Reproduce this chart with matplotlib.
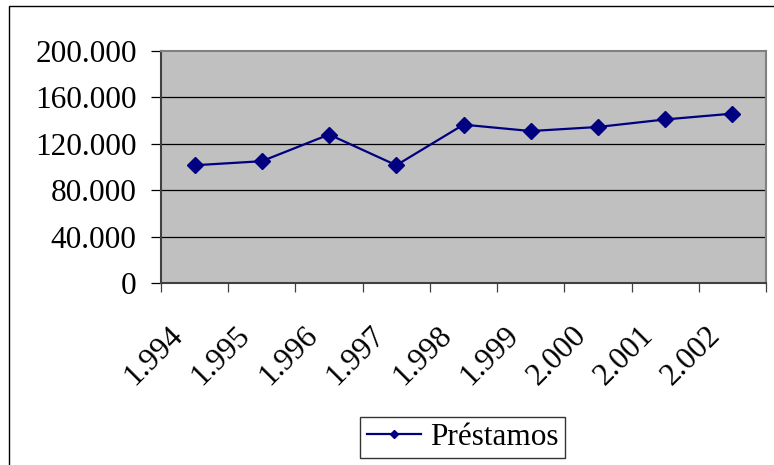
import matplotlib.pyplot as plt
import matplotlib.transforms as mtransforms
from matplotlib.patches import Rectangle
import numpy as np

# datos
anios = ['1.994', '1.995', '1.996', '1.997', '1.998', '1.999', '2.000', '2.001', '2.002']
prestamos = [101500, 105000, 128000, 101500, 136500, 131000, 134500, 141000, 146000]
y_ticks = [0, 40000, 80000, 120000, 160000, 200000]
y_labels = ['0', '40.000', '80.000', '120.000', '160.000', '200.000']

plt.rcParams['font.family'] = ['Liberation Serif', 'DejaVu Serif']

W, H = 774, 465
fig = plt.figure(figsize=(W / 100, H / 100), dpi=100)

# marco exterior del grafico (cortado a la derecha y abajo)
fig.patches.append(Rectangle((9 / W, -0.1), 1.2, 1 - 6 / H + 0.1, transform=fig.transFigure,
                             fill=False, edgecolor='black', linewidth=1.0))

ax = fig.add_axes([161 / W, 1 - 283 / H, (766 - 161) / W, (283 - 51) / H])
ax.set_facecolor('#C0C0C0')

x = np.arange(len(anios))
ax.plot(x, prestamos, color='#000080', linewidth=1.6, marker='D', markersize=8,
        label='Préstamos', zorder=3)

ax.set_xlim(-0.5, len(anios) - 0.5)
ax.set_ylim(0, 200000)

# rejilla horizontal
for v in y_ticks[1:-1]:
    ax.axhline(v, color='black', linewidth=0.9, zorder=1)

ax.set_yticks(y_ticks)
ax.set_yticklabels(y_labels, fontsize=22.5)
ax.tick_params(axis='y', direction='out', length=7, width=0.9, color='black', pad=10.5)

# marcas en los limites de categoria, etiquetas en el centro
ax.set_xticks(np.arange(-0.5, len(anios)), labels=[])
ax.tick_params(axis='x', which='major', direction='out', length=6.5, width=0.9, color='#404040')
ax.set_xticks(x, labels=anios, minor=True)
ax.tick_params(axis='x', which='minor', length=0, pad=0, labelsize=22.5)
offset = mtransforms.ScaledTranslation(-16 / 100, -48 / 100, fig.dpi_scale_trans)
for lab in ax.get_xticklabels(minor=True):
    lab.set_rotation(45)
    lab.set_ha('right')
    lab.set_va('center')
    lab.set_rotation_mode('anchor')
    lab.set_transform(lab.get_transform() + offset)

for s in ['top', 'right']:
    ax.spines[s].set_color('#808080')
    ax.spines[s].set_linewidth(1.5)
for s in ['left', 'bottom']:
    ax.spines[s].set_color('#404040')
    ax.spines[s].set_linewidth(1.5)

leg = fig.legend(loc='center', bbox_to_anchor=(462.5 / W, 1 - 437.5 / H), fontsize=22.5,
                 frameon=True, fancybox=False, shadow=False, borderpad=0.2, borderaxespad=0,
                 handletextpad=0.3, handlelength=1.73, markerscale=0.45)
leg.get_frame().set_edgecolor('black')
leg.get_frame().set_linewidth(1.0)

fig.savefig('out.png', dpi=100)
